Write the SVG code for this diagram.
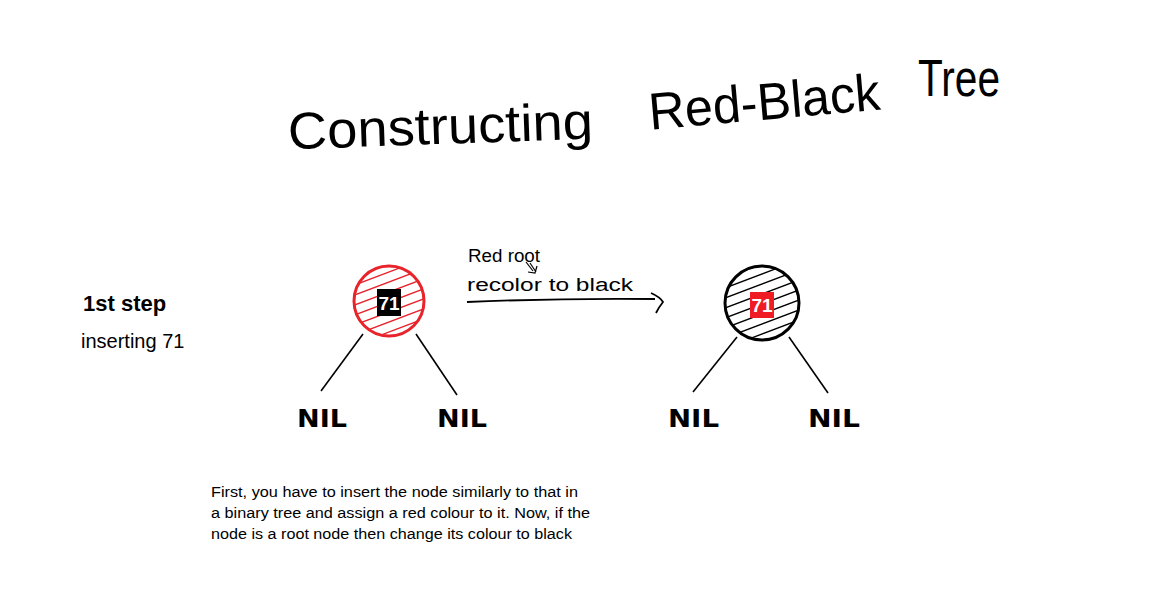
<svg xmlns="http://www.w3.org/2000/svg" width="1161" height="605" viewBox="0 0 1161 605">
<style>
.hand{font-family:"Liberation Sans",sans-serif;fill:#000}
.title{font-size:52px;font-weight:normal}
.nil{font-family:"DejaVu Sans",sans-serif;font-size:25px;font-weight:bold;fill:#000}
.edge{stroke:#000;stroke-width:1.6;fill:none}
.lbl{font-family:"Liberation Sans",sans-serif;font-size:19px;font-weight:bold;fill:#fff}
.body{font-family:"Liberation Sans",sans-serif;fill:#000}
</style>
<defs>
<clipPath id="c1"><circle cx="389" cy="301" r="35"/></clipPath>
<clipPath id="c2"><circle cx="762" cy="303" r="37"/></clipPath>
<path id="hatch" d="M-50,30 L50,-8 M-50,20 L50,-18 M-50,10 L50,-28 M-50,0 L50,-38 M-50,-10 L50,-48 M-50,40 L50,2 M-50,50 L50,12 M-50,60 L50,22 M-50,70 L50,32 M-50,-20 L50,-58 M-50,80 L50,42 M-50,-30 L50,-68"/>
</defs>
<rect width="1161" height="605" fill="#fff"/>
<g id="title">
<text class="hand title" x="288" y="144" textLength="305" lengthAdjust="spacingAndGlyphs" transform="rotate(-2 440 130)">Constructing</text>
<text class="hand title" x="648" y="120" textLength="232" lengthAdjust="spacingAndGlyphs" transform="rotate(-5 760 100)">Red-Black</text>
<text class="hand title" x="918" y="96" textLength="82" lengthAdjust="spacingAndGlyphs">Tree</text>
</g>
<g id="step">
<text class="body" x="83" y="311" font-size="22" font-weight="bold">1st step</text>
<text class="body" x="81" y="348" font-size="20">inserting 71</text>
</g>
<g id="connectors">
<line class="edge" x1="363" y1="334" x2="321" y2="391"/>
<line class="edge" x1="416" y1="334" x2="457" y2="395"/>
<line class="edge" x1="737" y1="337" x2="693" y2="392"/>
<line class="edge" x1="789" y1="337" x2="828" y2="393"/>
<path d="M467,302 Q560,298 655,299" fill="none" stroke="#000" stroke-width="1.8"/>
<path d="M651,293 Q660,297 663,302 Q659,307 656,313" fill="none" stroke="#000" stroke-width="1.8"/>
</g>
<g id="node-red">
<g clip-path="url(#c1)"><use href="#hatch" transform="translate(389 301)" stroke="#e8232a" stroke-width="1.3" fill="none"/></g>
<circle cx="389" cy="301" r="35" fill="none" stroke="#e8232a" stroke-width="3"/>
<rect x="377" y="289" width="24" height="27" fill="#000"/>
<text class="lbl" x="389" y="310" text-anchor="middle">71</text>
</g>
<g id="node-black">
<g clip-path="url(#c2)"><use href="#hatch" transform="translate(762 303)" stroke="#000" stroke-width="1.3" fill="none"/></g>
<circle cx="762" cy="303" r="37" fill="none" stroke="#000" stroke-width="3"/>
<rect x="750" y="292" width="24" height="26" fill="#f01c24"/>
<text class="lbl" x="762" y="312" text-anchor="middle">71</text>
</g>
<g id="nil1"><text class="nil" x="297" y="427" textLength="50" lengthAdjust="spacingAndGlyphs">NIL</text></g>
<g id="nil2"><text class="nil" x="437" y="427" textLength="50" lengthAdjust="spacingAndGlyphs">NIL</text></g>
<g id="nil3"><text class="nil" x="668" y="427" textLength="51" lengthAdjust="spacingAndGlyphs">NIL</text></g>
<g id="nil4"><text class="nil" x="808" y="427" textLength="52" lengthAdjust="spacingAndGlyphs">NIL</text></g>
<g id="annotation">
<text class="hand" x="468" y="262" font-size="18" textLength="72" lengthAdjust="spacingAndGlyphs">Red root</text>
<path d="M526,262 L533,271 M530,263 L536,272 M528,272 L535,273 L537,266" fill="none" stroke="#000" stroke-width="1.2"/>
<text class="hand" x="467" y="291" font-size="18" textLength="166" lengthAdjust="spacingAndGlyphs">recolor to black</text>
</g>
<g id="description" class="body" font-size="15.5">
<text x="211" y="497" textLength="367" lengthAdjust="spacingAndGlyphs">First, you have to insert the node similarly to that in</text>
<text x="211" y="518" textLength="379" lengthAdjust="spacingAndGlyphs">a binary tree and assign a red colour to it. Now, if the</text>
<text x="211" y="539" textLength="361" lengthAdjust="spacingAndGlyphs">node is a root node then change its colour to black</text>
</g>
</svg>
